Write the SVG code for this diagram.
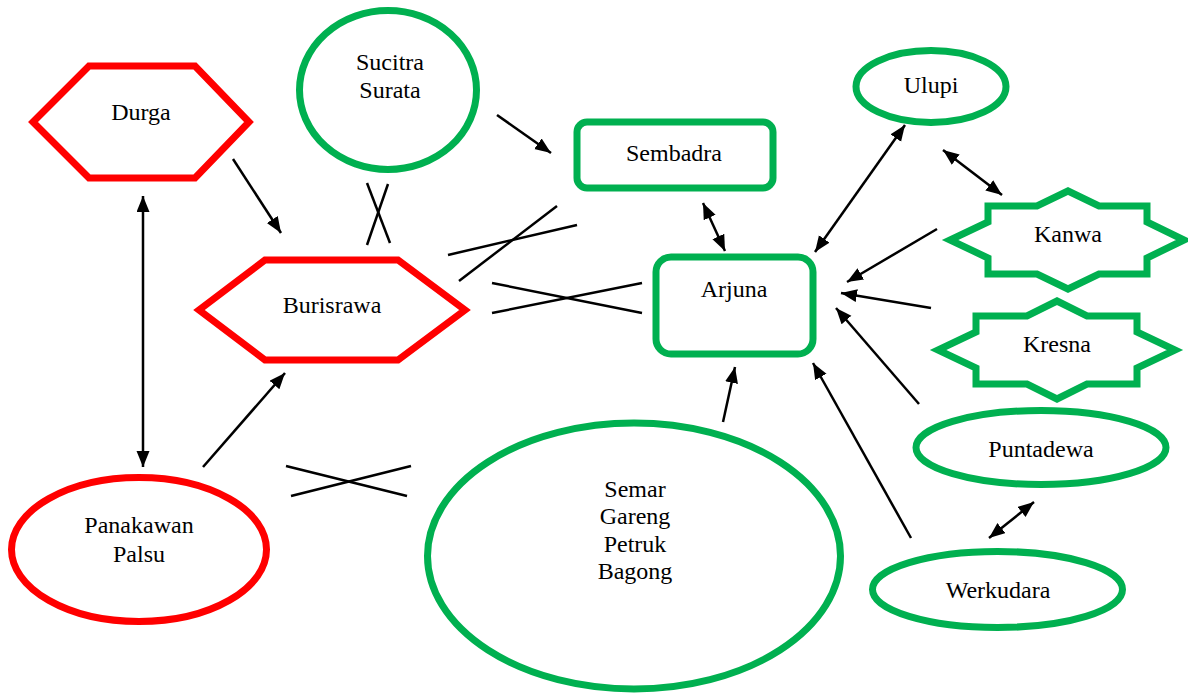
<svg xmlns="http://www.w3.org/2000/svg" width="1188" height="694" viewBox="0 0 1188 694">
<defs>
<style>
.red{fill:#fff;stroke:#FF0000;stroke-width:7;stroke-linejoin:miter}
.grn{fill:#fff;stroke:#00B050;stroke-width:7}
.t{font-family:"Liberation Serif","Times New Roman",serif;font-size:24px;fill:#000;text-anchor:middle}
.c line{stroke:#000;stroke-width:2.5}
.a{marker-end:url(#ah)}
.d{marker-end:url(#ah);marker-start:url(#ah)}
</style>
<marker id="ah" markerUnits="userSpaceOnUse" markerWidth="17" markerHeight="14" refX="16" refY="6.5" orient="auto-start-reverse" viewBox="0 0 17 14">
<path d="M0,0 L16,6.5 L0,13 z" fill="#000"/>
</marker>
</defs>
<rect width="1188" height="694" fill="#fff"/>

<g id="durga">
<polygon class="red" points="33,122 89,66 195,66 249,122 195,178 89,178"/>
<text class="t" x="141" y="120">Durga</text>
</g>
<g id="burisrawa">
<polygon class="red" points="199,310 265,260 398,260 465,310 398,360 265,360"/>
<text class="t" x="332" y="313">Burisrawa</text>
</g>
<g id="panakawan">
<ellipse class="red" cx="139" cy="549.5" rx="127.5" ry="72"/>
<text class="t" x="139" y="533">Panakawan</text>
<text class="t" x="139" y="562">Palsu</text>
</g>
<g id="sucitra">
<ellipse class="grn" cx="388" cy="90" rx="88.5" ry="79.5"/>
<text class="t" x="390" y="70">Sucitra</text>
<text class="t" x="390" y="98">Surata</text>
</g>
<g id="sembadra">
<rect class="grn" x="577" y="122" width="196" height="66" rx="10"/>
<text class="t" x="674" y="161">Sembadra</text>
</g>
<g id="arjuna">
<rect class="grn" x="656" y="257" width="157" height="97" rx="15"/>
<text class="t" x="734" y="297">Arjuna</text>
</g>
<g id="semar">
<ellipse class="grn" cx="634" cy="556" rx="206.5" ry="133"/>
<text class="t" x="635" y="497">Semar</text>
<text class="t" x="635" y="524">Gareng</text>
<text class="t" x="635" y="552">Petruk</text>
<text class="t" x="635" y="579">Bagong</text>
</g>
<g id="ulupi">
<ellipse class="grn" cx="931" cy="86.5" rx="75" ry="36"/>
<text class="t" x="931" y="93">Ulupi</text>
</g>
<g id="kanwa">
<polygon class="grn" points="1068,191 1099,206 1147,206 1147,222 1184,240 1147,258 1147,274 1099,274 1068,289 1037,274 988,274 988,258 950,240 988,222 988,206 1037,206"/>
<text class="t" x="1068" y="242">Kanwa</text>
</g>
<g id="kresna">
<polygon class="grn" points="1057,301 1087,316 1137,316 1137,332 1175,350 1137,368 1137,384 1087,384 1057,399 1027,384 976,384 976,368 938,350 976,332 976,316 1027,316"/>
<text class="t" x="1057" y="352">Kresna</text>
</g>
<g id="puntadewa">
<ellipse class="grn" cx="1041" cy="447.5" rx="125" ry="37"/>
<text class="t" x="1041" y="457">Puntadewa</text>
</g>
<g id="werkudara">
<ellipse class="grn" cx="997.5" cy="589.5" rx="125" ry="38"/>
<text class="t" x="998" y="598">Werkudara</text>
</g>

<g id="connectors" class="c">
<line class="a" x1="233" y1="159" x2="281" y2="233"/>
<line class="d" x1="143" y1="196" x2="143" y2="467"/>
<line class="a" x1="203" y1="467" x2="285" y2="373"/>
<line x1="367" y1="183" x2="390" y2="243"/>
<line x1="388" y1="184" x2="367" y2="245"/>
<line class="a" x1="497" y1="115" x2="551" y2="153"/>
<line x1="448" y1="255" x2="577" y2="225"/>
<line x1="459" y1="281" x2="557" y2="206"/>
<line x1="492" y1="283" x2="642" y2="313"/>
<line x1="492" y1="313" x2="642" y2="283"/>
<line class="d" x1="703" y1="203" x2="725" y2="251"/>
<line class="d" x1="905" y1="125" x2="815" y2="252"/>
<line class="d" x1="943" y1="150" x2="1002" y2="195"/>
<line class="a" x1="937" y1="229" x2="847" y2="282"/>
<line class="a" x1="931" y1="308" x2="841" y2="293"/>
<line class="a" x1="919" y1="404" x2="836" y2="308"/>
<line class="a" x1="911" y1="538" x2="813" y2="363"/>
<line class="a" x1="723" y1="422" x2="735" y2="367"/>
<line class="d" x1="1034" y1="502" x2="989" y2="538"/>
<line x1="286" y1="466" x2="407" y2="496"/>
<line x1="291" y1="496" x2="411" y2="466"/>
</g>
</svg>
